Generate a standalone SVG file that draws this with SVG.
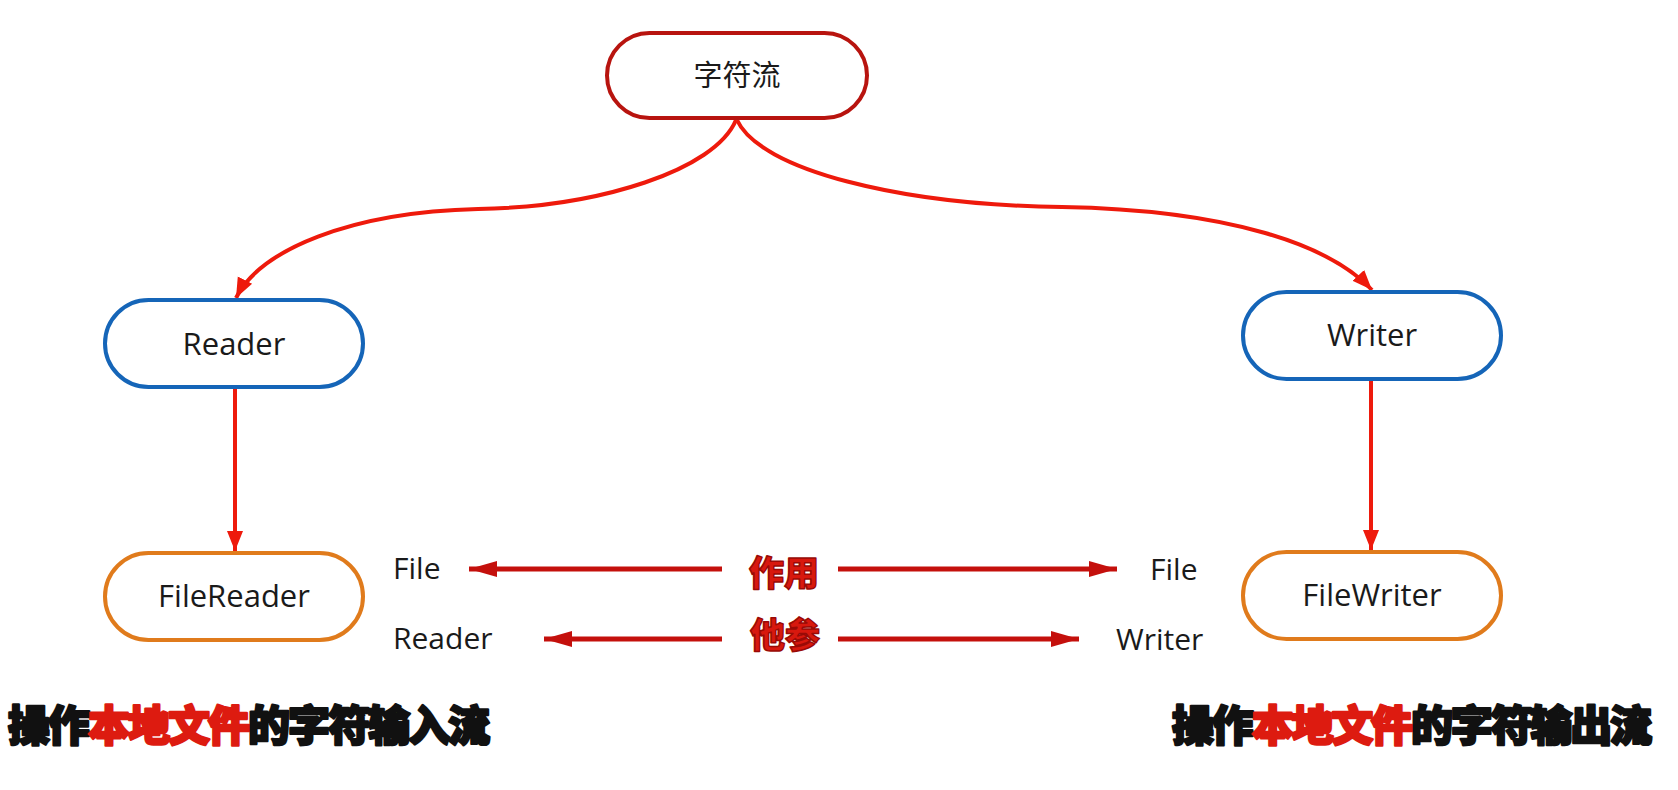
<svg xmlns="http://www.w3.org/2000/svg" width="1678" height="790" viewBox="0 0 1678 790">
<defs>
<style>
.node{fill:#ffffff;stroke-width:4}
.root{stroke:#b8140f}
.blue{stroke:#1565b8}
.orange{stroke:#e07b1c}
.lbl{font-family:"Open Sans","Noto Sans","Noto Sans CJK SC",sans-serif;font-size:31px;fill:#1a1a1a;text-anchor:middle}
.cjk{font-family:"Noto Sans CJK SC",sans-serif;font-size:29px;fill:#1a1a1a;text-anchor:middle}
.side{font-family:"Open Sans","Noto Sans",sans-serif;font-size:30px;fill:#1a1a1a}
.conn{fill:none;stroke:#ee1a0c;stroke-width:4}
.harr{fill:none;stroke:#c4100c;stroke-width:5}
.mid{font-family:"Noto Sans CJK SC",sans-serif;font-weight:900;font-size:35px;fill:#d8180e;stroke:#9a0a06;stroke-width:1.5;stroke-linejoin:round;text-anchor:middle}
.big{font-family:"Noto Sans CJK SC",sans-serif;font-weight:900;font-size:42px;fill:#111111;stroke:#111111;stroke-width:2.5;stroke-linejoin:round}
.red{fill:#dd1b10;stroke:#dd1b10}
</style>
<marker id="ah" markerUnits="userSpaceOnUse" markerWidth="22" markerHeight="22" viewBox="0 0 22 22" refX="20" refY="11" orient="auto">
<path d="M0,3 L20,11 L0,19 Z" fill="#ee1a0c"/>
</marker>
<marker id="ah2" markerUnits="userSpaceOnUse" markerWidth="30" markerHeight="20" viewBox="0 0 30 20" refX="28" refY="10" orient="auto">
<path d="M0,2 L28,10 L0,18 Z" fill="#c4100c"/>
</marker>
</defs>
<rect width="1678" height="790" fill="#ffffff"/>

<g id="connectors">
<path class="conn" d="M736,120 C715,170 600,207 478,209 C350,212 260,250 236,298" marker-end="url(#ah)"/>
<path class="conn" d="M737,120 C760,170 900,205 1062,207 C1230,210 1330,245 1372,290" marker-end="url(#ah)"/>
<path class="conn" d="M235,387 L235,551" marker-end="url(#ah)"/>
<path class="conn" d="M1371,379 L1371,550" marker-end="url(#ah)"/>
<path class="harr" d="M722,569 L469,569" marker-end="url(#ah2)"/>
<path class="harr" d="M838,569 L1117,569" marker-end="url(#ah2)"/>
<path class="harr" d="M722,639 L544,639" marker-end="url(#ah2)"/>
<path class="harr" d="M838,639 L1079,639" marker-end="url(#ah2)"/>
</g>

<g id="node-root">
<rect class="node root" x="607" y="33" width="260" height="85" rx="42.5"/>
<text class="cjk" x="737" y="86">字符流</text>
</g>
<g id="node-reader">
<rect class="node blue" x="105" y="300" width="258" height="87" rx="43.5"/>
<text class="lbl" x="234" y="355">Reader</text>
</g>
<g id="node-writer">
<rect class="node blue" x="1243" y="292" width="258" height="87" rx="43.5"/>
<text class="lbl" x="1372" y="346">Writer</text>
</g>
<g id="node-filereader">
<rect class="node orange" x="105" y="553" width="258" height="87" rx="43.5"/>
<text class="lbl" x="234" y="607">FileReader</text>
</g>
<g id="node-filewriter">
<rect class="node orange" x="1243" y="552" width="258" height="87" rx="43.5"/>
<text class="lbl" x="1372" y="606">FileWriter</text>
</g>

<g id="labels">
<text class="side" x="393" y="579">File</text>
<text class="side" x="393" y="649">Reader</text>
<text class="side" x="1150" y="580">File</text>
<text class="side" x="1116" y="650">Writer</text>
<text class="mid" x="784" y="586">作用</text>
<text class="mid" x="785" y="648">他参</text>
<text class="big" x="8" y="741" textLength="482" lengthAdjust="spacing">操作<tspan class="red">本地文件</tspan>的字符输入流</text>
<text class="big" x="1172" y="741" textLength="480" lengthAdjust="spacing">操作<tspan class="red">本地文件</tspan>的字符输出流</text>
</g>
</svg>
